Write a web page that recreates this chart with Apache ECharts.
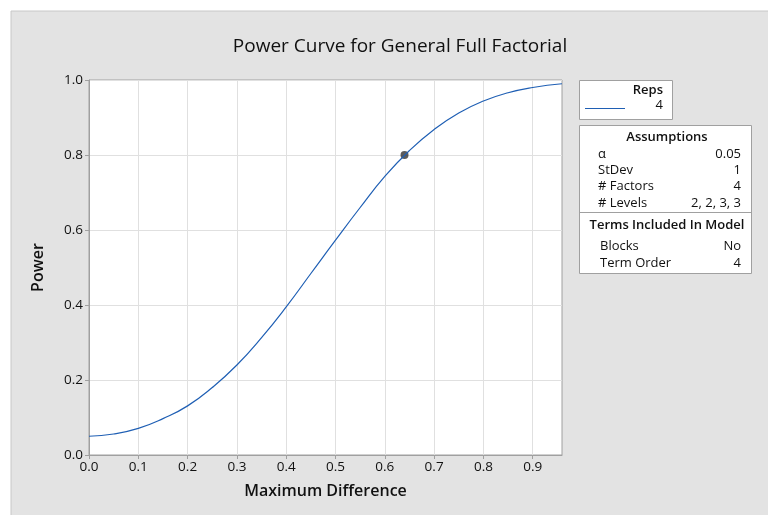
<!DOCTYPE html>
<html><head><meta charset="utf-8">
<script src="https://cdn.jsdelivr.net/npm/echarts@6/dist/echarts.min.js"></script>
<style>html,body{margin:0;padding:0;background:#fff}#c{width:768px;height:515px}</style>
</head><body><div id="c"></div>
<script>
const titleText = "Power Curve for General Full Factorial";
const xName = "Maximum Difference";
const yName = "Power";
const diffValues = [0, 0.05, 0.10, 0.15, 0.20, 0.25, 0.30, 0.35, 0.40, 0.45, 0.50, 0.55, 0.60, 0.65, 0.70, 0.75, 0.80, 0.85, 0.90, 0.9594];
const powerValues = [0.050, 0.056, 0.071, 0.097, 0.131, 0.180, 0.240, 0.313, 0.395, 0.484, 0.573, 0.660, 0.743, 0.812, 0.868, 0.912, 0.944, 0.966, 0.980, 0.990];
const targetPoint = [0.64, 0.80];
const repsLabel = "Reps";
const repsValue = "4";
const assumptionLabels = ["α", "StDev", "# Factors", "# Levels"];
const assumptionValues = ["0.05", "1", "4", "2, 2, 3, 3"];
const termLabels = ["Blocks", "Term Order"];
const termValues = ["No", "4"];

const FONT = "Open Sans";
const chart = echarts.init(document.getElementById('c'), null, {renderer: 'canvas'});
const lineData = diffValues.map((d, i) => [d, powerValues[i]]);

const g = [];
g.push({type:'rect', z:-10, shape:{x:11, y:11, width:770, height:520}, style:{fill:'#e3e3e3', stroke:'#c8c8c8', lineWidth:1}});
// Reps box
g.push({type:'rect', shape:{x:579.5, y:80.5, width:93, height:39}, style:{fill:'#fff', stroke:'#a0a0a0', lineWidth:1}});
g.push({type:'text', style:{x:663, y:90, text:repsLabel, textAlign:'right', textVerticalAlign:'middle', font:'600 13px "'+FONT+'"', fill:'#111'}});
g.push({type:'line', shape:{x1:585, y1:108.5, x2:625, y2:108.5}, style:{stroke:'#1f5fb4', lineWidth:1}});
g.push({type:'text', style:{x:663, y:105, text:repsValue, textAlign:'right', textVerticalAlign:'middle', font:'13px "'+FONT+'"', fill:'#111'}});
// Assumptions box
g.push({type:'rect', shape:{x:579.5, y:125.5, width:172, height:148}, style:{fill:'#fff', stroke:'#a0a0a0', lineWidth:1}});
g.push({type:'text', style:{x:667, y:137, text:'Assumptions', textAlign:'center', textVerticalAlign:'middle', font:'600 13px "'+FONT+'"', fill:'#111'}});
const aY = [154, 170, 186, 203];
assumptionLabels.forEach((l, i) => {
  g.push({type:'text', style:{x:598, y:aY[i], text:l, textAlign:'left', textVerticalAlign:'middle', font:'13px "'+FONT+'"', fill:'#111'}});
  g.push({type:'text', style:{x:741, y:aY[i], text:assumptionValues[i], textAlign:'right', textVerticalAlign:'middle', font:'13px "'+FONT+'"', fill:'#111'}});
});
g.push({type:'line', shape:{x1:580, y1:212.5, x2:751, y2:212.5}, style:{stroke:'#a0a0a0', lineWidth:1}});
g.push({type:'text', style:{x:667, y:225, text:'Terms Included In Model', textAlign:'center', textVerticalAlign:'middle', font:'600 13px "'+FONT+'"', fill:'#111'}});
const tY = [246, 263];
termLabels.forEach((l, i) => {
  g.push({type:'text', style:{x:600, y:tY[i], text:l, textAlign:'left', textVerticalAlign:'middle', font:'13px "'+FONT+'"', fill:'#111'}});
  g.push({type:'text', style:{x:741, y:tY[i], text:termValues[i], textAlign:'right', textVerticalAlign:'middle', font:'13px "'+FONT+'"', fill:'#111'}});
});

chart.setOption({
  backgroundColor: '#ffffff',
  animation: false,
  title: {text: titleText, left: 395, top: 32, textAlign: 'center',
    textStyle: {fontFamily: FONT, fontSize: 19, fontWeight: 'normal', color: '#111'}},
  graphic: g,
  grid: {left: 89, right: 206, top: 80, bottom: 60, show: true, backgroundColor: '#fff', borderColor: '#a0a0a0', borderWidth: 1},
  xAxis: {type: 'value', min: 0, max: 0.9594, interval: 0.1,
    name: xName, nameLocation: 'middle', nameGap: 28,
    nameTextStyle: {fontFamily: FONT, fontSize: 16, fontWeight: 600, color: '#111'},
    axisLine: {show: true, lineStyle: {color: '#a0a0a0'}},
    axisTick: {show: true, length: 4, lineStyle: {color: '#a0a0a0'}},
    axisLabel: {fontFamily: FONT, fontSize: 13.5, color: '#111', margin: 5, showMaxLabel: false,
      formatter: v => (Math.abs(v - 0.9594) < 1e-6 ? '' : v.toFixed(1))},
    splitLine: {show: true, showMaxLine: false, lineStyle: {color: '#e0e0e0'}}},
  yAxis: {type: 'value', min: 0, max: 1, interval: 0.2,
    name: yName, nameLocation: 'middle', nameGap: 43, nameRotate: 90,
    nameTextStyle: {fontFamily: FONT, fontSize: 16, fontWeight: 600, color: '#111'},
    axisLine: {show: true, lineStyle: {color: '#a0a0a0'}},
    axisTick: {show: true, length: 4, lineStyle: {color: '#a0a0a0'}},
    axisLabel: {fontFamily: FONT, fontSize: 13.5, color: '#111', margin: 6, formatter: v => v.toFixed(1)},
    splitLine: {show: true, lineStyle: {color: '#e0e0e0'}}},
  series: [
    {type: 'line', data: lineData, smooth: true, showSymbol: false,
      lineStyle: {color: '#1f5fb4', width: 1.2}},
    {type: 'scatter', data: [targetPoint], symbolSize: 8, itemStyle: {color: '#333'}}
  ]
});
</script></body></html>
